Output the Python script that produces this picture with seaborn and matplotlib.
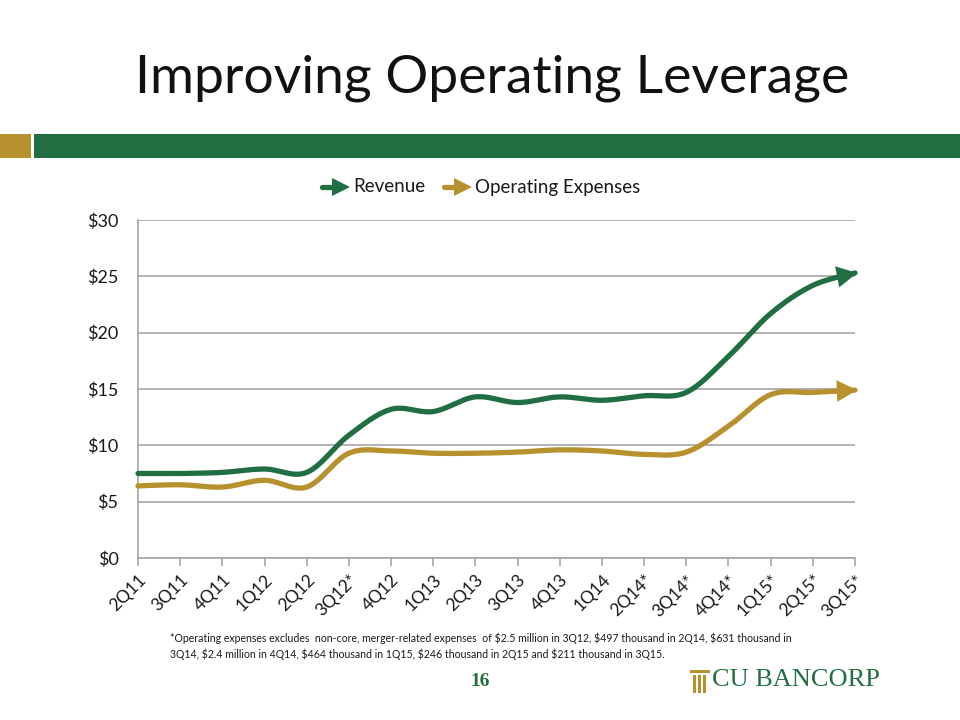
import numpy as np
import pandas as pd
import seaborn as sns
import matplotlib
matplotlib.use('Agg')
import matplotlib.pyplot as plt
from matplotlib.patches import Rectangle

quarters = ['2Q11', '3Q11', '4Q11', '1Q12', '2Q12', '3Q12*', '4Q12', '1Q13', '2Q13', '3Q13',
            '4Q13', '1Q14', '2Q14*', '3Q14*', '4Q14*', '1Q15*', '2Q15*', '3Q15*']
revenue = [7.5, 7.5, 7.6, 7.9, 7.6, 10.9, 13.2, 13.0, 14.3, 13.8,
           14.3, 14.0, 14.4, 14.7, 17.9, 21.7, 24.2, 25.3]
opex = [6.4, 6.5, 6.3, 6.9, 6.3, 9.3, 9.5, 9.3, 9.3, 9.4,
        9.6, 9.5, 9.2, 9.4, 11.7, 14.5, 14.7, 14.9]
series_names = ['Revenue', 'Operating Expenses']
yticks = [0, 5, 10, 15, 20, 25, 30]

GREEN = '#226E43'
GOLD = '#B8912F'
TEXT = '#1A1A1A'
GRID = '#A6A6A6'

footnote = ('*Operating expenses excludes  non-core, merger-related expenses  of $2.5 million in 3Q12, $497 thousand in 2Q14, $631 thousand in\n'
            '3Q14, $2.4 million in 4Q14, $464 thousand in 1Q15, $246 thousand in 2Q15 and $211 thousand in 3Q15.')


def smooth(values, steps=20):
    # excel style smoothed line (bezier through the points, catmull-rom control points)
    p = np.array(values, dtype=float)
    x = np.arange(len(p), dtype=float)
    xs, ys = [], []
    for i in range(len(p) - 1):
        x0, x3 = x[i], x[i + 1]
        y0, y3 = p[i], p[i + 1]
        xm, ym = (x[i - 1], p[i - 1]) if i > 0 else (x0, y0)
        xn, yn = (x[i + 2], p[i + 2]) if i + 2 < len(p) else (x3, y3)
        x1, y1 = x0 + (x3 - xm) / 6, y0 + (y3 - ym) / 6
        x2, y2 = x3 - (xn - x0) / 6, y3 - (yn - y0) / 6
        t = np.linspace(0, 1, steps, endpoint=(i == len(p) - 2))
        b = [(1 - t) ** 3, 3 * (1 - t) ** 2 * t, 3 * (1 - t) * t ** 2, t ** 3]
        xs.append(b[0] * x0 + b[1] * x1 + b[2] * x2 + b[3] * x3)
        ys.append(b[0] * y0 + b[1] * y1 + b[2] * y2 + b[3] * y3)
    return np.concatenate(xs), np.concatenate(ys)


frames = []
for name, vals in zip(series_names, [revenue, opex]):
    sx, sy = smooth(vals)
    frames.append(pd.DataFrame({'x': sx, 'y': sy, 'Series': name}))
df = pd.concat(frames, ignore_index=True)

sns.set_theme(style='white')
plt.rcParams['font.family'] = ['Lato', 'DejaVu Sans']

fig = plt.figure(figsize=(9.6, 7.2), dpi=100)
ax = fig.add_axes([0.14375, 0.225, 0.746875, 0.4694])

palette = {'Revenue': GREEN, 'Operating Expenses': GOLD}
sns.lineplot(data=df, x='x', y='y', hue='Series', palette=palette, linewidth=3.8,
             sort=False, estimator=None, legend=False, ax=ax, clip_on=False, zorder=3)

# arrow heads at the last quarter
for name, vals in zip(series_names, [revenue, opex]):
    sx, sy = smooth(vals)
    ax.annotate('', xy=(sx[-1] + 0.05, sy[-1]), xytext=(sx[-6], sy[-6]),
                arrowprops=dict(arrowstyle='-|>,head_length=0.85,head_width=0.45',
                                color=palette[name], lw=0.1, mutation_scale=17,
                                shrinkA=0, shrinkB=0),
                annotation_clip=False, zorder=4)

ax.set_xlim(0, 17)
ax.set_ylim(0, 30)
ax.set_yticks(yticks)
ax.set_yticklabels(['$%d' % v for v in yticks], fontsize=13, color=TEXT)
ax.set_xticks(range(len(quarters)))
ax.set_xticklabels(quarters, rotation=45, ha='right', rotation_mode='anchor', fontsize=12.5, color=TEXT)
ax.set_xlabel('')
ax.set_ylabel('')
ax.grid(axis='y', color=GRID, linewidth=1.2)
ax.grid(axis='x', visible=False)
for s in ['top', 'right']:
    ax.spines[s].set_visible(False)
for s in ['left', 'bottom']:
    ax.spines[s].set_color(GRID)
    ax.spines[s].set_linewidth(1.2)
ax.tick_params(axis='x', bottom=True, length=6, width=1.2, color=GRID, pad=4)
ax.tick_params(axis='y', left=False, pad=8)

# title and header bars
fig.text(0.513, 0.892, 'Improving Operating Leverage', ha='center', va='center',
         fontsize=38.5, color='#111111')
fig.patches.append(Rectangle((0, 1 - 158 / 720), 31 / 960, 24 / 720, transform=fig.transFigure,
                             facecolor=GOLD, edgecolor='none'))
fig.patches.append(Rectangle((34 / 960, 1 - 158 / 720), 926 / 960, 24 / 720, transform=fig.transFigure,
                             facecolor=GREEN, edgecolor='none'))

# legend
ly = 1 - 187 / 720
for x0, name, col in [(322, 'Revenue', GREEN), (444, 'Operating Expenses', GOLD)]:
    fig.patches.append(plt.Line2D([x0 / 960, (x0 + 12) / 960], [ly, ly], transform=fig.transFigure,
                                  color=col, linewidth=3.8))
    fig.patches.append(plt.Polygon([[(x0 + 10) / 960, ly + 9 / 720], [(x0 + 28) / 960, ly],
                                    [(x0 + 10) / 960, ly - 9 / 720]], closed=True,
                                   transform=fig.transFigure, facecolor=col, edgecolor='none'))
    fig.text((x0 + 31) / 960, ly, name, ha='left', va='center', fontsize=13.5, color=TEXT)

# footnote, page number, logo
fig.text(170 / 960, 1 - 646 / 720, footnote, ha='left', va='center', fontsize=7.6,
         color=TEXT, linespacing=1.5, parse_math=False)
fig.text(480 / 960, 1 - 682 / 720, '16', ha='center', va='center', fontsize=14,
         fontweight='bold', family='Liberation Serif', color=GREEN)
fig.text(712 / 960, 1 - 680 / 720, 'CU BANCORP', ha='left', va='center', fontsize=19,
         family='Liberation Serif', color=GREEN)
for i in range(3):
    fig.patches.append(Rectangle(((693 + i * 5) / 960, 1 - 693 / 720), 2.5 / 960, 18 / 720,
                                 transform=fig.transFigure, facecolor=GOLD, edgecolor='none'))
fig.patches.append(Rectangle((690 / 960, 1 - 673 / 720), 20 / 960, 3 / 720,
                             transform=fig.transFigure, facecolor=GOLD, edgecolor='none'))

fig.savefig('out.png', dpi=100)
